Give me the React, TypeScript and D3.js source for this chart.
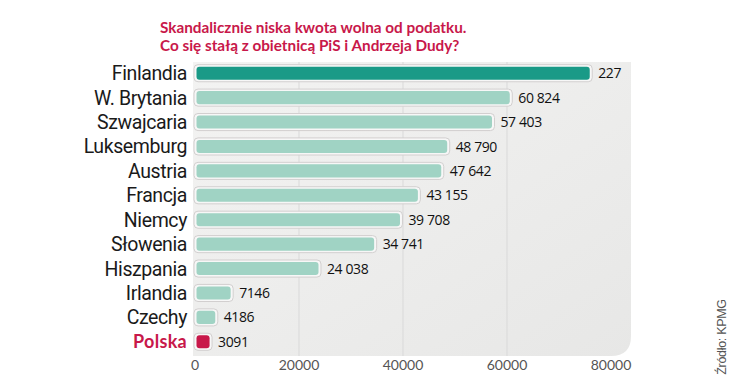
import React, { useEffect, useRef } from "react";
import * as d3 from "d3";

const countries = [
  "Finlandia", "W. Brytania", "Szwajcaria", "Luksemburg", "Austria", "Francja",
  "Niemcy", "Słowenia", "Hiszpania", "Irlandia", "Czechy", "Polska",
];
const amounts = [76200, 60824, 57403, 48790, 47642, 43155, 39708, 34741, 24038, 7146, 4186, 3091];
const amountLabels = ["227", "60 824", "57 403", "48 790", "47 642", "43 155", "39 708", "34 741", "24 038", "7146", "4186", "3091"];
const xTicks = [0, 20000, 40000, 60000, 80000];
const titleLines = [
  "Skandalicznie niska kwota wolna od podatku.",
  "Co się stałą z obietnicą PiS i Andrzeja Dudy?",
];

const App = () => {
  const svgRef = useRef<SVGSVGElement>(null);

  useEffect(() => {
    const svg = d3.select(svgRef.current);
    svg.selectAll("*").remove();

    const width = 738;
    const height = 387;
    const crimson = "rgb(200, 24, 74)";
    const teal = "rgb(26, 154, 135)";
    const mint = "rgb(160, 211, 196)";

    svg.attr("width", width).attr("height", height);

    const xScale = d3.scaleLinear().domain([0, 80000]).range([195, 611]);
    const yScale = d3.scaleBand().domain(countries).range([61, 354]).paddingInner(0.3).paddingOuter(0.15);

    // background panel
    const defs = svg.append("defs");
    const grad = defs.append("linearGradient").attr("id", "panelGrad")
      .attr("x1", "0").attr("y1", "0").attr("x2", "1").attr("y2", "1");
    grad.append("stop").attr("offset", "0%").attr("stop-color", "#f3f3f2");
    grad.append("stop").attr("offset", "100%").attr("stop-color", "#e7e7e6");

    svg.append("path")
      .attr("d", "M193,62 H631 V336 Q631,356 611,356 H193 Z")
      .attr("fill", "url(#panelGrad)");

    // gridlines
    svg.append("g")
      .selectAll("line")
      .data(xTicks.slice(1, 4))
      .join("line")
      .attr("x1", (d) => xScale(d))
      .attr("x2", (d) => xScale(d))
      .attr("y1", 62)
      .attr("y2", 356)
      .attr("stroke", "#d9d9d9")
      .attr("stroke-width", 1);

    // bars
    const rows = svg.append("g")
      .selectAll("g")
      .data(countries)
      .join("g")
      .attr("transform", (d) => `translate(0, ${yScale(d)})`);

    const bh = yScale.bandwidth();

    rows.append("rect")
      .attr("x", xScale(0) - 1)
      .attr("y", 0)
      .attr("width", (d, i) => xScale(amounts[i]) - xScale(0) + 2)
      .attr("height", bh)
      .attr("rx", 4)
      .attr("fill", "#f7f7f7")
      .attr("stroke", "#d2cfcf")
      .attr("stroke-width", 1);

    rows.append("rect")
      .attr("x", xScale(0) + 1.5)
      .attr("y", 2)
      .attr("width", (d, i) => Math.max(0, xScale(amounts[i]) - xScale(0) - 3))
      .attr("height", bh - 4)
      .attr("rx", 3)
      .attr("fill", (d, i) => (i === 0 ? teal : d === "Polska" ? crimson : mint));

    rows.append("text")
      .attr("x", (d, i) => xScale(amounts[i]) + 7)
      .attr("y", bh / 2)
      .attr("dy", "0.36em")
      .style("font-family", "'Open Sans', sans-serif")
      .style("font-size", "14px")
      .style("letter-spacing", "-0.4px")
      .attr("fill", "#111")
      .text((d, i) => amountLabels[i]);

    rows.append("text")
      .attr("x", 187)
      .attr("y", bh / 2)
      .attr("dy", "0.36em")
      .attr("text-anchor", "end")
      .style("font-family", (d) => (d === "Polska" ? "Lato, sans-serif" : "Roboto, sans-serif"))
      .style("font-size", (d) => (d === "Polska" ? "18px" : "19.5px"))
      .style("font-weight", (d) => (d === "Polska" ? "bold" : "normal"))
      .style("letter-spacing", (d) => (d === "Polska" ? "0.3px" : "-0.4px"))
      .attr("fill", (d) => (d === "Polska" ? crimson : "#1a1a1a"))
      .text((d) => d);

    // x axis labels
    svg.append("g")
      .selectAll("text")
      .data(xTicks)
      .join("text")
      .attr("x", (d) => xScale(d))
      .attr("y", 370)
      .attr("text-anchor", "middle")
      .style("font-family", "Lato, sans-serif")
      .style("font-size", "14px")
      .attr("fill", "#555")
      .text((d) => d);

    // title
    svg.append("g")
      .selectAll("text")
      .data(titleLines)
      .join("text")
      .attr("x", 160)
      .attr("y", (d, i) => 33 + i * 18)
      .style("font-family", "Lato, sans-serif")
      .style("font-size", "15.3px")
      .style("font-weight", "bold")
      .attr("fill", crimson)
      .text((d) => d);

    // source
    svg.append("text")
      .attr("transform", "translate(726, 337) rotate(-90)")
      .attr("text-anchor", "middle")
      .style("font-family", "'Liberation Sans', Arial, sans-serif")
      .style("font-size", "12.5px")
      .style("letter-spacing", "-0.3px")
      .attr("fill", "#555")
      .text("Źródło: KPMG");
  }, []);

  return <svg ref={svgRef} style={{ position: "absolute", left: 0, top: 0 }}></svg>;
};

export default App;
